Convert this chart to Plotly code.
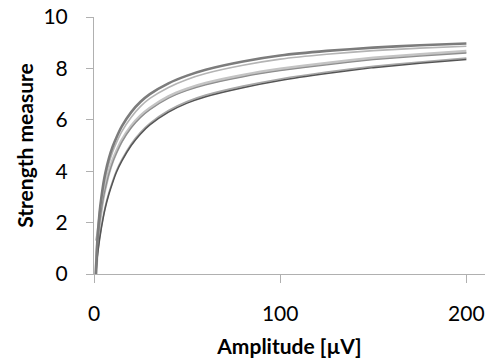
import plotly.graph_objects as go

amplitude = [1, 1.5, 2, 3, 4, 5, 6, 8, 10, 12, 15, 20, 25, 30, 40, 50, 60, 80, 100, 125, 150, 175, 200]

series_a1 = [0.0, 0.9, 1.5, 2.4, 3.0, 3.5, 3.9, 4.5, 4.95, 5.3, 5.75, 6.3, 6.7, 7.0, 7.42, 7.72, 7.95, 8.27, 8.5, 8.68, 8.81, 8.9, 8.97]
series_a2 = [1.3, 1.5, 1.8, 2.4, 2.9, 3.35, 3.72, 4.3, 4.75, 5.1, 5.55, 6.1, 6.52, 6.83, 7.26, 7.57, 7.8, 8.12, 8.36, 8.55, 8.69, 8.79, 8.86]
series_b1 = [0.0, 0.7, 1.2, 2.0, 2.55, 3.0, 3.35, 3.95, 4.4, 4.75, 5.2, 5.75, 6.15, 6.45, 6.9, 7.2, 7.42, 7.73, 7.97, 8.2, 8.4, 8.54, 8.66]
series_b2 = [0.0, 0.65, 1.14, 1.94, 2.49, 2.94, 3.29, 3.89, 4.34, 4.69, 5.14, 5.69, 6.09, 6.39, 6.84, 7.14, 7.36, 7.67, 7.91, 8.14, 8.34, 8.48, 8.6]
series_c1 = [0.0, 0.45, 0.8, 1.35, 1.8, 2.2, 2.55, 3.1, 3.55, 3.95, 4.4, 5.0, 5.45, 5.8, 6.3, 6.65, 6.9, 7.25, 7.53, 7.8, 8.03, 8.2, 8.35]
series_c2 = [0.0, 0.5, 0.86, 1.41, 1.86, 2.26, 2.61, 3.16, 3.61, 4.01, 4.46, 5.06, 5.51, 5.86, 6.36, 6.71, 6.96, 7.31, 7.59, 7.86, 8.08, 8.25, 8.4]

styles = [
    (series_b1, "#c4c4c4", 3.2),
    (series_b2, "#8e8e8e", 1.3),
    (series_c2, "#a8a8a8", 1.6),
    (series_c1, "#555555", 1.5),
    (series_a2, "#b4b4b4", 1.6),
    (series_a1, "#7c7c7c", 2.6),
]

fig = go.Figure()
for ys, col, w in styles:
    fig.add_trace(go.Scatter(x=amplitude, y=ys, mode="lines",
                             line=dict(color=col, width=w, shape="spline", smoothing=0.5),
                             showlegend=False, hoverinfo="skip"))

axis_col = "#b0b0b0"
fig.update_layout(
    width=495, height=360,
    margin=dict(l=94, r=10, t=17, b=86),
    paper_bgcolor="white", plot_bgcolor="white",
    font=dict(family="Lato, sans-serif", color="black"),
    xaxis=dict(range=[0, 210], tickvals=[0, 100, 200], ticks="outside", ticklen=8,
               tickcolor=axis_col, showline=True, linecolor=axis_col, linewidth=1,
               showgrid=False, zeroline=False, tickfont=dict(size=21),
               ticklabelstandoff=13, automargin=False,
               title=dict(text="<b>Amplitude [µV]</b>", font=dict(size=21), standoff=15)),
    yaxis=dict(range=[0, 10], tickvals=[0, 2, 4, 6, 8, 10], ticks="outside", ticklen=7,
               tickcolor=axis_col, showline=True, linecolor=axis_col, linewidth=1,
               showgrid=False, zeroline=False, tickfont=dict(size=21),
               ticklabelstandoff=14, automargin=False,
               title=dict(text="<b>Strength measure</b>", font=dict(size=21), standoff=4)),
)
fig.write_html("out.html")
